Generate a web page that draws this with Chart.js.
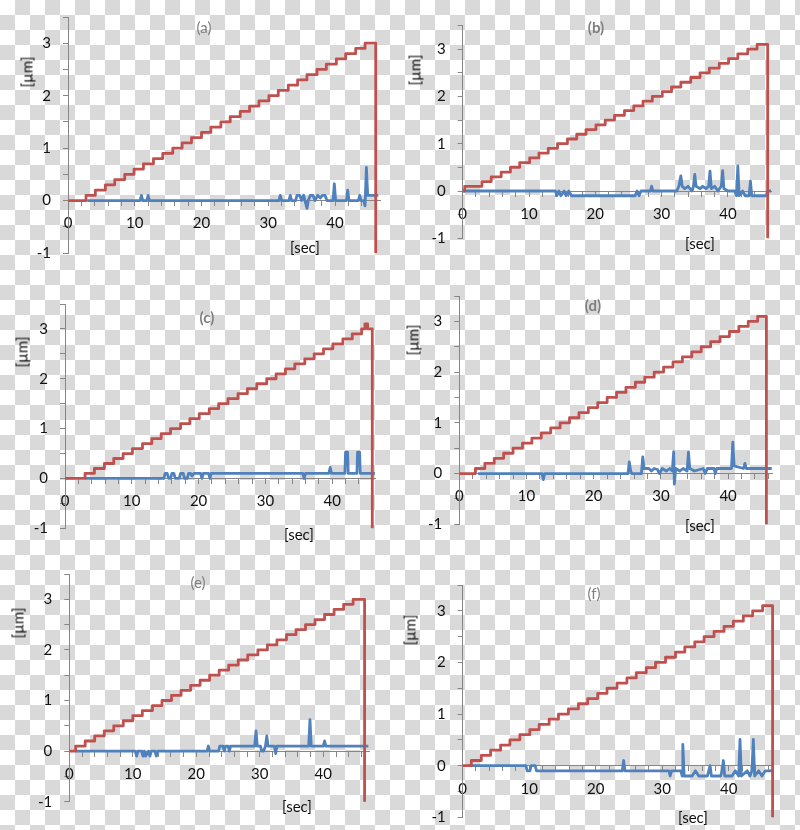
<!DOCTYPE html>
<html>
<head>
<meta charset="utf-8">
<script src="https://cdn.jsdelivr.net/npm/chart.js@4.4.1/dist/chart.umd.min.js"></script>
<style>
  html, body { margin:0; padding:0; }
  body {
    width:800px; height:830px; position:relative; overflow:hidden;
    background: repeating-conic-gradient(#d9d9d9 0 25%, #ffffff 0 50%) 0 0 / 30px 30px;
    font-family: Lato, "Open Sans", sans-serif;
  }
  .box { position:absolute; }
  .lbl { position:absolute; transform:translate(-50%,-50%); white-space:nowrap; font-size:15px; color:#111; line-height:1; }
  .ttl { color:#7f7f7f; font-size:15px; }
  .rot { transform:translate(-50%,-50%) rotate(-90deg); }
</style>
</head>
<body>
<script>
// ---------- data ----------
const yTicks = [-1, 0, 1, 2, 3];
const xTicks = [0, 10, 20, 30, 40];

const redA = [[0,0],[2.7,0.1],[4.1,0.2],[5.6,0.3],[7.0,0.4],[8.5,0.5],[9.9,0.6],[11.3,0.7],[12.8,0.8],[14.2,0.9],[15.7,1.0],[17.1,1.1],[18.5,1.2],[20.0,1.3],[21.4,1.4],[22.9,1.5],[24.3,1.6],[25.8,1.7],[27.2,1.8],[28.6,1.9],[30.1,2.0],[31.5,2.1],[33.0,2.2],[34.4,2.3],[35.8,2.4],[37.3,2.5],[38.7,2.6],[40.2,2.7],[41.6,2.8],[43.1,2.9],[44.5,3.0],[45.6,3.0],[46.1,-1]];
const blueA = [[2.9,0],[10.8,0],[11.0,0.1],[11.2,0],[11.8,0],[12.0,0.1],[12.2,0],[31.6,0],[31.8,0.1],[32.0,0],[33.1,0],[33.3,0.1],[33.5,0],[34.1,0],[34.3,0.1],[34.7,0.1],[35.0,0],[35.3,0.1],[35.6,-0.05],[35.8,-0.15],[36.0,0],[36.3,0.1],[36.7,0.1],[37.0,0],[37.4,0.1],[37.8,0.05],[38.1,0.1],[38.5,0.1],[38.8,0],[39.7,0],[39.9,0.32],[40.1,0],[41.7,0],[41.9,0.2],[42.1,0],[43.5,0],[43.7,0.1],[43.9,0],[44.3,0],[44.5,-0.1],[44.7,0.63],[44.9,0.1],[46.5,0.1]];

const redB = [[0,0],[0.3,0.1],[2.9,0.2],[4.3,0.3],[5.8,0.4],[7.2,0.5],[8.6,0.6],[10.1,0.7],[11.5,0.8],[12.9,0.9],[14.3,1.0],[15.8,1.1],[17.2,1.2],[18.6,1.3],[20.1,1.4],[21.5,1.5],[22.9,1.6],[24.4,1.7],[25.8,1.8],[27.2,1.9],[28.6,2.0],[30.1,2.1],[31.5,2.2],[32.9,2.3],[34.4,2.4],[35.8,2.5],[37.2,2.6],[38.7,2.7],[40.1,2.8],[41.5,2.9],[43.0,3.0],[44.4,3.1],[46.0,-1]];
const blueB = [[0.1,0],[14.0,0],[14.2,-0.1],[14.5,0],[14.8,-0.1],[15.3,0],[15.6,-0.1],[16.0,0],[16.4,-0.1],[26.0,-0.1],[26.3,0],[26.6,-0.1],[26.9,0],[28.3,0],[28.5,0.1],[28.7,0],[32.3,0],[32.6,0.1],[32.9,0.32],[33.1,0.1],[33.5,0.05],[34.0,0.1],[34.6,0],[34.8,0.1],[35.0,0.35],[35.2,0.1],[35.8,0.05],[36.2,0.1],[36.7,0.05],[37.1,0.1],[37.3,0.42],[37.5,0.05],[38.0,0.1],[38.5,0],[39.0,0.1],[39.2,0.43],[39.4,0.05],[40.0,0],[41.0,0],[41.3,-0.1],[41.5,0.53],[41.7,-0.1],[42.2,0],[42.6,-0.1],[43.2,-0.1],[43.4,0.21],[43.6,-0.1],[45.8,-0.1],[46.0,0],[46.5,0]];

const redC = [[0,0],[3.0,0.1],[4.4,0.2],[5.9,0.3],[7.3,0.4],[8.7,0.5],[10.1,0.6],[11.6,0.7],[13.0,0.8],[14.4,0.9],[15.8,1.0],[17.3,1.1],[18.7,1.2],[20.1,1.3],[21.6,1.4],[23.0,1.5],[24.4,1.6],[25.9,1.7],[27.3,1.8],[28.7,1.9],[30.2,2.0],[31.6,2.1],[33.0,2.2],[34.4,2.3],[35.9,2.4],[37.3,2.5],[38.7,2.6],[40.1,2.7],[41.6,2.8],[43.0,2.9],[44.4,3.0],[44.9,3.1],[45.3,3.0],[46.0,-1]];
const blueC = [[3.0,0],[14.8,0],[15.0,0.1],[15.3,0.1],[15.5,0],[15.8,0],[16.0,0.1],[16.3,0.1],[16.5,0],[17.1,0],[17.3,0.1],[17.7,0.1],[17.9,0],[18.3,0],[18.5,0.1],[18.8,0.1],[19.0,0.05],[19.3,0.1],[20.3,0.1],[20.5,0],[20.7,0.1],[21.5,0.1],[21.7,0],[21.9,0.1],[35.6,0.1],[35.8,0],[36.0,0.1],[39.5,0.1],[39.7,0.22],[39.9,0.1],[41.9,0.1],[42.0,0.53],[42.3,0.53],[42.4,0.1],[43.7,0.1],[43.8,0.53],[44.1,0.53],[44.2,0.1],[46.4,0.1]];

const redD = [[0,0],[2.4,0.1],[3.8,0.2],[5.2,0.3],[6.6,0.4],[8.0,0.5],[9.4,0.6],[10.8,0.7],[12.2,0.8],[13.6,0.9],[15.0,1.0],[16.4,1.1],[17.8,1.2],[19.2,1.3],[20.6,1.4],[22.0,1.5],[23.4,1.6],[24.8,1.7],[26.2,1.8],[27.6,1.9],[29.0,2.0],[30.4,2.1],[31.8,2.2],[33.2,2.3],[34.6,2.4],[36.0,2.5],[37.4,2.6],[38.8,2.7],[40.2,2.8],[41.6,2.9],[43.0,3.0],[44.4,3.1],[45.7,-1]];
const blueD = [[2.8,0],[12.3,0],[12.5,-0.12],[12.7,0],[25.1,0],[25.3,0.23],[25.5,0.05],[25.7,0],[27.1,0],[27.3,0.33],[27.5,0.1],[28.2,0.1],[28.6,0.05],[29.0,0.1],[29.5,0.08],[29.8,0],[30.2,0.1],[30.8,0.05],[31.3,0.1],[31.7,0.05],[31.9,0.43],[32.0,-0.21],[32.2,0.1],[32.8,0.05],[33.3,0.1],[33.9,0.05],[34.1,0.42],[34.3,0.1],[35.0,0.05],[36.3,0.1],[36.6,0],[36.9,0.1],[37.9,0.1],[38.1,0],[38.3,0.1],[40.5,0.1],[40.7,0.62],[40.9,0.15],[42.3,0.1],[42.5,0.2],[42.7,0.1],[46.5,0.1]];

const redE = [[0,0],[1.0,0.1],[2.5,0.2],[4.0,0.3],[5.5,0.4],[7.0,0.5],[8.5,0.6],[10.0,0.7],[11.5,0.8],[13.1,0.9],[14.6,1.0],[16.1,1.1],[17.6,1.2],[19.1,1.3],[20.6,1.4],[22.1,1.5],[23.6,1.6],[25.1,1.7],[26.6,1.8],[28.1,1.9],[29.7,2.0],[31.2,2.1],[32.7,2.2],[34.2,2.3],[35.7,2.4],[37.2,2.5],[38.7,2.6],[40.2,2.7],[41.7,2.8],[43.2,2.9],[44.7,3.0],[46.5,-1]];
const blueE = [[1.0,0],[10.4,0],[10.6,-0.1],[10.8,0],[11.4,0],[11.6,-0.1],[11.8,0],[12.0,-0.1],[12.5,0],[12.7,-0.1],[12.9,0],[13.5,0],[13.7,-0.1],[13.9,0],[21.7,0],[21.9,0.1],[22.1,0],[23.5,0],[23.7,0.1],[24.2,0.1],[24.4,0],[24.6,0.1],[25.0,0.1],[25.2,0],[25.4,0.1],[29.2,0.1],[29.4,0.4],[29.6,0.1],[30.1,0.1],[30.3,0],[30.6,0],[30.9,0.1],[31.1,0.3],[31.3,0.1],[32.3,0.1],[32.5,-0.05],[32.7,0.1],[37.7,0.1],[37.9,0.62],[38.1,0.1],[40.0,0.1],[40.2,0.2],[40.4,0.1],[47.1,0.1]];

const redF = [[0,0],[1.3,0.1],[2.8,0.2],[4.2,0.3],[5.7,0.4],[7.1,0.5],[8.6,0.6],[10.1,0.7],[11.5,0.8],[13.0,0.9],[14.4,1.0],[15.9,1.1],[17.4,1.2],[18.8,1.3],[20.3,1.4],[21.7,1.5],[23.2,1.6],[24.7,1.7],[26.1,1.8],[27.6,1.9],[29.0,2.0],[30.5,2.1],[32.0,2.2],[33.4,2.3],[34.9,2.4],[36.3,2.5],[37.8,2.6],[39.3,2.7],[40.7,2.8],[42.2,2.9],[43.6,3.0],[45.1,3.1],[46.6,-1]];
const blueF = [[0.8,0],[9.5,0],[9.7,-0.1],[10.1,-0.1],[10.3,0],[10.9,0],[11.1,-0.1],[24.0,-0.1],[24.2,0.1],[24.4,-0.1],[31.0,-0.1],[31.2,-0.2],[31.4,-0.1],[32.8,-0.1],[33.0,-0.2],[33.1,0.41],[33.3,-0.2],[34.5,-0.2],[35.0,-0.1],[35.5,-0.2],[36.8,-0.2],[37.2,0.0],[37.4,-0.2],[38.8,-0.2],[39.0,-0.1],[39.2,0.1],[39.4,-0.2],[40.5,-0.2],[41.0,-0.1],[41.5,-0.2],[41.7,0.51],[41.9,-0.2],[42.8,-0.1],[43.2,-0.2],[43.5,-0.1],[43.7,0.51],[43.9,-0.2],[44.5,-0.1],[45.0,-0.2],[45.5,-0.1],[46.7,-0.1]];

const panelNames = ['(a)', '(b)', '(c)', '(d)', '(e)', '(f)'];
const yAxisTitle = '[\u00b5m]';
const xAxisTitle = '[sec]';

// ---------- layout (page pixels) ----------
const panels = [
  {name:panelNames[0], red:redA, blue:blueA, xmax:46.8, axisX:68,    pps:6.675, top:17,  bottom:253,   bold:false, t:[204,27],  u:[27,72],   s:[305,247]},
  {name:panelNames[1], red:redB, blue:blueB, xmax:46.6, axisX:462.7, pps:6.63,  top:25.5,bottom:238.3, bold:true,  t:[596,27],  u:[415,70],  s:[700,243]},
  {name:panelNames[2], red:redC, blue:blueC, xmax:46.5, axisX:65,    pps:6.68,  top:304, bottom:528.3, bold:true,  t:[207,317], u:[22,352],  s:[299,534]},
  {name:panelNames[3], red:redD, blue:blueD, xmax:46.6, axisX:459.3, pps:6.72,  top:296, bottom:524.3, bold:true,  t:[593,305], u:[413,340], s:[700,525]},
  {name:panelNames[4], red:redE, blue:blueE, xmax:47.2, axisX:69.3,  pps:6.35,  top:574, bottom:801.7, bold:false, t:[198,582], u:[18,623],  s:[297,806]},
  {name:panelNames[5], red:redF, blue:blueF, xmax:46.8, axisX:462.7, pps:6.65,  top:585, bottom:817.3, bold:false, t:[594,593], u:[410,630], s:[693,817]}
];

const RED = '#C0504D', BLUE = '#4F81BD', AXIS = '#868686';
const FONT = {family:'Lato, "Open Sans", sans-serif', size:15};
const Y_W = 45;

function addLabel(text, pos, cls) {
  const d = document.createElement('div');
  d.className = 'lbl ' + (cls || '');
  d.textContent = text;
  d.style.left = pos[0] + 'px';
  d.style.top = pos[1] + 'px';
  document.body.appendChild(d);
  return d;
}

panels.forEach(p => {
  const right = p.axisX + p.xmax * p.pps;
  const left = Math.round(p.axisX - 60);
  const top = Math.round(p.top - 14);
  const width = Math.round(right + 14 - left);
  const height = Math.round(p.bottom + 14 - top);
  const div = document.createElement('div');
  div.className = 'box';
  div.style.left = left + 'px';
  div.style.top = top + 'px';
  div.style.width = width + 'px';
  div.style.height = height + 'px';
  const cv = document.createElement('canvas');
  cv.width = width; cv.height = height;
  cv.style.width = width + 'px'; cv.style.height = height + 'px';
  div.appendChild(cv);
  document.body.appendChild(div);

  const pad = {
    left: p.axisX - left - Y_W,
    top: p.top - top,
    right: width - (right - left),
    bottom: height - (p.bottom - top)
  };

  new Chart(cv, {
    type: 'line',
    data: {
      datasets: [
        {data: p.red.map(([x, y]) => ({x, y})), borderColor: RED, borderWidth: 2.8, stepped: 'before',
         pointRadius: 0, tension: 0, clip: false, borderJoinStyle: 'round', borderCapStyle: 'butt'},
        {data: p.blue.map(([x, y]) => ({x, y})), borderColor: BLUE, borderWidth: 2.8,
         pointRadius: 0, tension: 0, clip: false, borderJoinStyle: 'round'}
      ]
    },
    options: {
      responsive: false,
      animation: false,
      devicePixelRatio: 1,
      layout: {padding: pad},
      plugins: {legend: {display: false}, tooltip: {enabled: false}, title: {display: false}},
      scales: {
        x: {
          type: 'linear', position: {y: 0}, min: 0, max: p.xmax,
          border: {color: AXIS, width: 1},
          grid: {drawOnChartArea: false, drawTicks: true, tickLength: 5, color: AXIS},
          ticks: {stepSize: 2, autoSkip: false, maxRotation: 0, includeBounds: false, padding: 9,
                  font: FONT, color: '#111',
                  callback: v => xTicks.includes(v) ? String(v) : ''},
          afterFit: s => { s.paddingLeft = 0; s.paddingRight = 0; }
        },
        y: {
          type: 'linear', min: -1, max: 3.5,
          border: {color: AXIS, width: 1},
          grid: {drawOnChartArea: false, drawTicks: true, tickLength: 5, color: AXIS},
          ticks: {stepSize: 0.5, autoSkip: false, padding: 12, font: FONT, color: '#111',
                  callback: v => yTicks.includes(v) ? String(v) : ''},
          afterFit: s => { s.width = Y_W; s.paddingTop = 0; s.paddingBottom = 0; }
        }
      }
    }
  });

  const t = addLabel(p.name, p.t, 'ttl');
  if (p.bold) t.style.fontWeight = 'bold';
  addLabel(yAxisTitle, p.u, 'rot');
  addLabel(xAxisTitle, p.s, '');
});
</script>
</body>
</html>
